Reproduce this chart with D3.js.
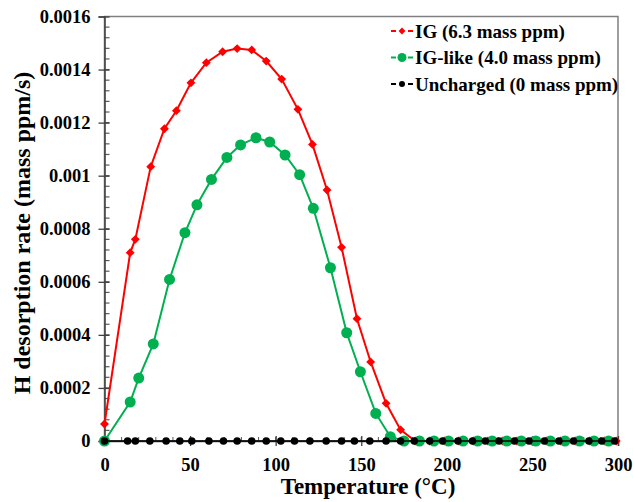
<!DOCTYPE html>
<meta charset="utf-8">
<style>
body { margin: 0; background: #fff; }
svg text { font-family: "Liberation Serif", "Times New Roman", serif; font-weight: bold; fill: #000; }
</style>
<body>
<svg id="vis" width="633" height="502"></svg>
</body>
<script src="https://d3js.org/d3.v7.min.js"></script>
<script>
// IG (6.3 mass ppm)
var igTemp = [0, 15, 18, 27, 35, 42, 50.5, 59.5, 69, 77.5, 86, 94.5, 103.5, 113, 121.5, 130, 138.5, 147.5, 155.5, 164.5, 173,
              181.5, 190, 198.5, 207, 215.5, 224, 232.5, 241, 249.5, 258, 266.5, 275, 283.5, 292, 299];
var igRate = [0.000064, 0.00071, 0.00076, 0.001034, 0.001177, 0.001245, 0.00135, 0.001426, 0.001467, 0.001479, 0.001474,
              0.001432, 0.001364, 0.00125, 0.001118, 0.000946, 0.00073, 0.000461, 0.000298, 0.000142, 0.000042,
              0, 0, 0, 0, 0, 0, 0, 0, 0, 0, 0, 0, 0, 0, 0];
// IG-like (4.0 mass ppm)
var likeTemp = [0, 15, 20, 28.5, 38, 47, 54, 62.5, 71.5, 79.5, 88.5, 96.5, 105.5, 114, 122, 132, 141.5, 149.5, 158.5, 167,
                175, 184, 192.5, 201, 209.5, 218, 226.5, 235, 243.5, 252, 260.5, 269, 277.5, 286, 294.5];
var likeRate = [0, 0.000147, 0.000237, 0.000366, 0.000609, 0.000785, 0.00089, 0.000986, 0.001069, 0.001116, 0.001143,
                0.001127, 0.001078, 0.001004, 0.000877, 0.000653, 0.000408, 0.000261, 0.000104, 0.000016,
                0, 0, 0, 0, 0, 0, 0, 0, 0, 0, 0, 0, 0, 0, 0];
// Uncharged (0 mass ppm)
var unchTemp = [0, 13.5, 18, 26.5, 36, 44, 51, 61, 69.5, 77.5, 86, 94.5, 103, 111, 120, 129.5, 138.5, 146, 155, 164.5,
                173, 181, 190, 197.5, 206.5, 215, 222.5, 230.5, 239.5, 248, 257, 265.5, 274, 283, 290.5, 298];
var unchRate = [0, 0, 0, 0, 0, 0, 0, 0, 0, 0, 0, 0, 0, 0, 0, 0, 0, 0, 0, 0,
                0, 0, 0, 0, 0, 0, 0, 0, 0, 0, 0, 0, 0, 0, 0, 0];

var xTicks = [0, 50, 100, 150, 200, 250, 300];
var yTicks = [0, 0.0002, 0.0004, 0.0006, 0.0008, 0.001, 0.0012, 0.0014, 0.0016];
var yTickLabels = ["0", "0.0002", "0.0004", "0.0006", "0.0008", "0.001", "0.0012", "0.0014", "0.0016"];
var seriesNames = ["IG (6.3 mass ppm)", "IG-like (4.0 mass ppm)", "Uncharged (0 mass ppm)"];
var seriesColors = ["#ff0000", "#00b050", "#000000"];

var svg = d3.select("svg"),
    margin = {top: 16.5, right: 15, bottom: 61, left: 104.5},
    width = +svg.attr("width") - margin.left - margin.right,
    height = +svg.attr("height") - margin.top - margin.bottom;

var x = d3.scaleLinear().domain([0, 300]).range([0, width]),
    y = d3.scaleLinear().domain([0, 0.0016]).range([height, 0]);

var g = svg.append("g")
    .attr("transform", "translate(" + margin.left + "," + margin.top + ")");

// frame
g.append("rect")
    .attr("width", width).attr("height", height)
    .attr("fill", "none").attr("stroke", "#7f7f7f").attr("stroke-width", 1.5);

// minor ticks (inside)
g.append("g").attr("class", "minor")
    .selectAll("line").data(d3.range(0, 40).map(function(i){ return i * 0.00004; }))
    .enter().append("line")
    .attr("x1", 0).attr("x2", 5)
    .attr("y1", function(d){ return y(d); }).attr("y2", function(d){ return y(d); })
    .attr("stroke", "#595959").attr("stroke-width", 1.2);
g.append("g").attr("class", "minor")
    .selectAll("line").data(d3.range(0, 30).map(function(i){ return i * 10; }))
    .enter().append("line")
    .attr("x1", function(d){ return x(d); }).attr("x2", function(d){ return x(d); })
    .attr("y1", height).attr("y2", height - 4)
    .attr("stroke", "#595959").attr("stroke-width", 1);

// axes
var yaxis = g.append("g")
    .call(d3.axisLeft(y).tickValues(yTicks).tickSize(6).tickPadding(8)
      .tickFormat(function(d, i){ return yTickLabels[i]; }));
yaxis.selectAll(".tick line").attr("x2", -6).attr("x1", 5);
var xaxis = g.append("g")
    .attr("transform", "translate(0," + height + ")")
    .call(d3.axisBottom(x).tickValues(xTicks).tickSize(5).tickPadding(12).tickFormat(d3.format("d")));
xaxis.selectAll(".tick line").attr("y1", -5);
g.selectAll(".domain").attr("stroke", "#404040").attr("stroke-width", 1.5);
g.selectAll(".tick line").attr("stroke", "#404040").attr("stroke-width", 1.3);
g.selectAll(".tick text").style("font-size", "18.5px");

// series
var line = d3.line().x(function(d){ return x(d[0]); }).y(function(d){ return y(d[1]); });
var series = [
  {pts: d3.zip(igTemp, igRate), color: seriesColors[0], type: "diamond", w: 2},
  {pts: d3.zip(likeTemp, likeRate), color: seriesColors[1], type: "big", w: 2},
  {pts: d3.zip(unchTemp, unchRate), color: seriesColors[2], type: "small", w: 1.5}
];
function marker(sel, s) {
  if (s.type === "diamond") {
    sel.append("path").attr("d", d3.symbol(d3.symbolDiamond2, 50)()).attr("fill", s.color);
  } else {
    sel.append("circle").attr("r", s.type === "big" ? 5.5 : 3.8).attr("fill", s.color);
  }
}
series.forEach(function(s) {
  var sg = g.append("g");
  sg.append("path").datum(s.pts).attr("d", line)
    .attr("fill", "none").attr("stroke", s.color).attr("stroke-width", s.w);
  sg.selectAll("g.pt").data(s.pts).enter().append("g").attr("class", "pt")
    .attr("transform", function(d){ return "translate(" + x(d[0]) + "," + y(d[1]) + ")"; })
    .each(function(){ marker(d3.select(this), s); });
});

// axis titles
svg.append("text")
    .attr("x", 368).attr("y", 494)
    .attr("text-anchor", "middle").style("font-size", "23px")
    .text("Temperature (°C)");
svg.append("text")
    .attr("transform", "translate(30,233) rotate(-90)")
    .attr("text-anchor", "middle").style("font-size", "24px")
    .text("H desorption rate (mass ppm/s)");

// legend
var legend = svg.append("g").attr("transform", "translate(402,31)");
series.forEach(function(s, i) {
  var lg = legend.append("g").attr("transform", "translate(0," + i * 26.5 + ")");
  lg.append("line").attr("x1", -11).attr("x2", 11)
    .attr("stroke", s.color).attr("stroke-width", 2).attr("stroke-dasharray", "5,12");
  var mk = lg.append("g");
  if (s.type === "diamond") mk.append("path").attr("d", d3.symbol(d3.symbolDiamond2, 30)()).attr("fill", s.color);
  else mk.append("circle").attr("r", s.type === "big" ? 4.5 : 3).attr("fill", s.color);
  lg.append("text").attr("x", 13).attr("dy", "0.35em").style("font-size", "19px").text(seriesNames[i]);
});
</script>
